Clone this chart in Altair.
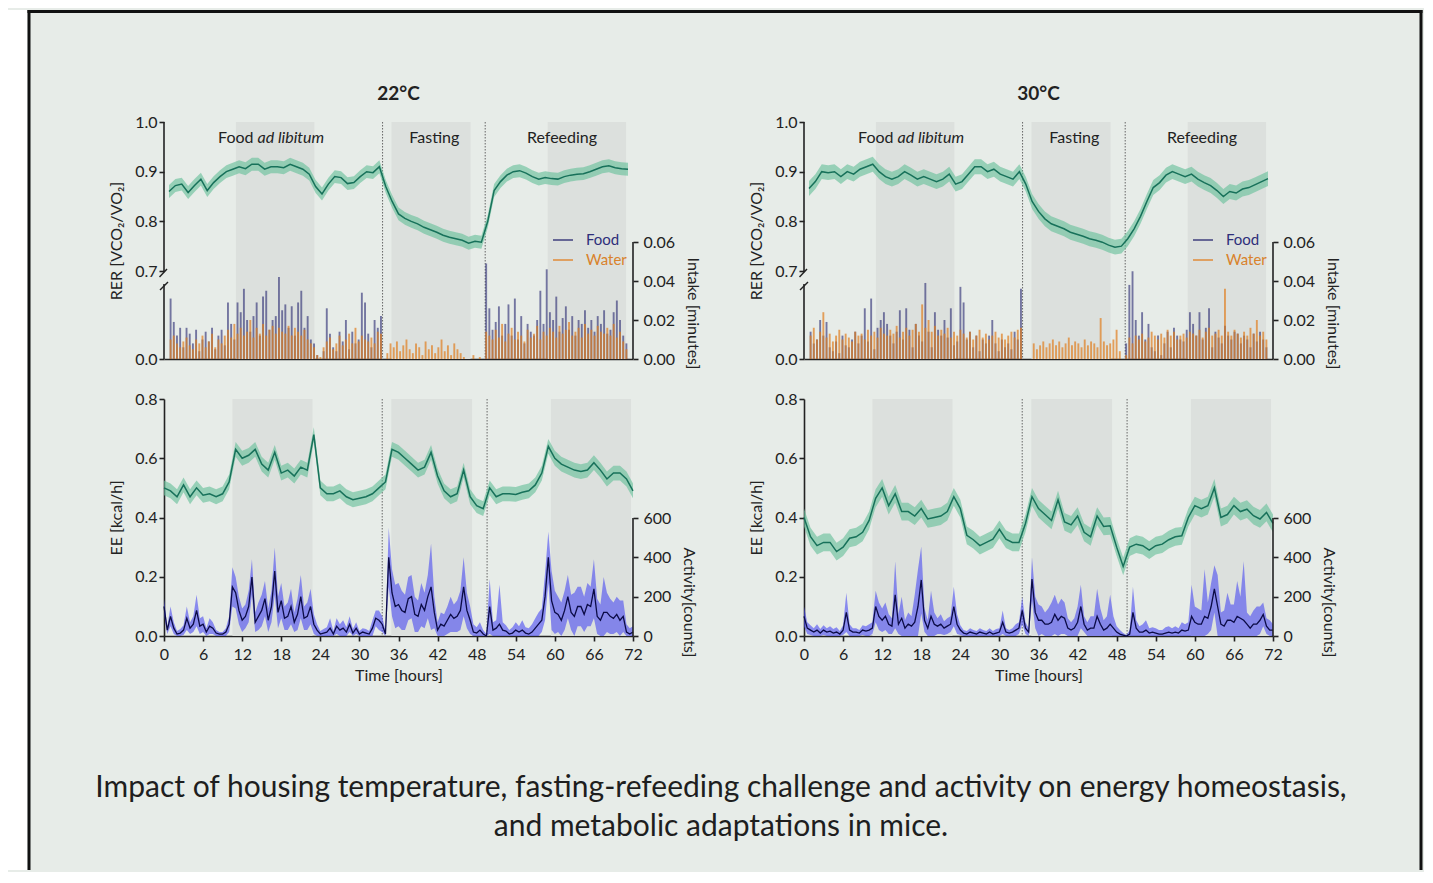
import altair as alt
import pandas as pd

# ---------------- data ----------------
HOURS = list(range(73))                       # hourly means, 0..72 h
HALF = [i * 0.5 for i in range(145)]          # activity, every 0.5 h
BINS = [i * 0.5 + 0.25 for i in range(144)]   # intake bins (0.5 h)

rer22 = [0.860, 0.872, 0.875, 0.858, 0.872, 0.885, 0.862, 0.878, 0.890, 0.900,
         0.905, 0.910, 0.906, 0.915, 0.915, 0.905, 0.910, 0.910, 0.908, 0.915,
         0.910, 0.905, 0.895, 0.870, 0.855, 0.875, 0.890, 0.888, 0.876, 0.878,
         0.890, 0.900, 0.898, 0.910, 0.870, 0.840, 0.815, 0.806, 0.800, 0.795,
         0.788, 0.783, 0.778, 0.772, 0.768, 0.765, 0.762, 0.756, 0.760, 0.758,
         0.800, 0.862, 0.880, 0.893, 0.900, 0.902, 0.897, 0.890, 0.885, 0.888,
         0.886, 0.885, 0.890, 0.893, 0.895, 0.896, 0.900, 0.905, 0.910, 0.912,
         0.908, 0.906, 0.905]
rer30 = [0.866, 0.880, 0.900, 0.898, 0.900, 0.890, 0.900, 0.895, 0.905, 0.910,
         0.915, 0.900, 0.890, 0.885, 0.890, 0.900, 0.893, 0.885, 0.890, 0.885,
         0.880, 0.885, 0.895, 0.875, 0.880, 0.895, 0.910, 0.910, 0.900, 0.905,
         0.895, 0.890, 0.885, 0.900, 0.875, 0.840, 0.820, 0.805, 0.795, 0.790,
         0.785, 0.778, 0.774, 0.770, 0.765, 0.762, 0.758, 0.752, 0.748, 0.750,
         0.765, 0.785, 0.810, 0.840, 0.868, 0.878, 0.893, 0.900, 0.895, 0.890,
         0.895, 0.885, 0.878, 0.872, 0.862, 0.850, 0.860, 0.857, 0.865, 0.868,
         0.874, 0.880, 0.886]
ee22 = [0.50, 0.49, 0.47, 0.51, 0.47, 0.50, 0.475, 0.48, 0.47, 0.48,
        0.52, 0.63, 0.60, 0.61, 0.63, 0.58, 0.56, 0.62, 0.55, 0.56,
        0.54, 0.57, 0.56, 0.68, 0.50, 0.48, 0.48, 0.49, 0.47, 0.46,
        0.465, 0.47, 0.48, 0.50, 0.52, 0.63, 0.62, 0.60, 0.58, 0.56,
        0.57, 0.62, 0.54, 0.49, 0.47, 0.48, 0.56, 0.47, 0.44, 0.43,
        0.50, 0.47, 0.48, 0.48, 0.478, 0.485, 0.49, 0.51, 0.55, 0.64,
        0.60, 0.58, 0.57, 0.56, 0.555, 0.56, 0.585, 0.56, 0.53, 0.55,
        0.55, 0.53, 0.49]
ee30 = [0.40, 0.335, 0.305, 0.316, 0.316, 0.285, 0.30, 0.33, 0.335, 0.35,
        0.39, 0.465, 0.50, 0.44, 0.48, 0.42, 0.42, 0.405, 0.43, 0.395,
        0.40, 0.405, 0.42, 0.47, 0.43, 0.34, 0.325, 0.305, 0.316, 0.327,
        0.36, 0.327, 0.316, 0.316, 0.38, 0.47, 0.43, 0.41, 0.39, 0.46,
        0.385, 0.375, 0.405, 0.35, 0.335, 0.405, 0.37, 0.372, 0.30, 0.235,
        0.30, 0.31, 0.305, 0.29, 0.305, 0.31, 0.325, 0.335, 0.338, 0.40,
        0.44, 0.43, 0.44, 0.50, 0.40, 0.41, 0.44, 0.42, 0.428, 0.406,
        0.395, 0.417, 0.38]
RER_SEM = {"22": 0.013, "30": 0.015}   # half-width of the shaded band
EE_SEM = {"22": 0.025, "30": 0.03}

food22 = [0.031, 0.019, 0.012, 0.016, 0.006, 0.016, 0.013, 0.008, 0.015, 0.004, 0.010, 0.014,
          0.009, 0.016, 0.005, 0.012, 0.015, 0.007, 0.029, 0.018, 0.010, 0.029, 0.024, 0.036,
          0.020, 0.014, 0.022, 0.029, 0.012, 0.032, 0.035, 0.015, 0.020, 0.022, 0.042, 0.025,
          0.028, 0.016, 0.027, 0.012, 0.029, 0.035, 0.016, 0.022, 0.010, 0.008, 0.002, 0.000,
          0.004, 0.026, 0.013, 0.006, 0.004, 0.014, 0.009, 0.020, 0.005, 0.014, 0.008, 0.010,
          0.034, 0.029, 0.013, 0.006, 0.020, 0.016, 0.022, 0, 0, 0, 0, 0,
          0, 0, 0, 0, 0, 0, 0, 0, 0, 0, 0, 0,
          0, 0, 0, 0, 0, 0, 0, 0, 0, 0, 0, 0,
          0, 0, 0, 0.049, 0.026, 0.015, 0.019, 0.027, 0.012, 0.018, 0.028, 0.012,
          0.031, 0.010, 0.022, 0.008, 0.018, 0.014, 0.012, 0.020, 0.035, 0.018, 0.046, 0.024,
          0.020, 0.032, 0.014, 0.021, 0.027, 0.015, 0.022, 0.012, 0.020, 0.018, 0.025, 0.016,
          0.020, 0.014, 0.022, 0.018, 0.025, 0.013, 0.015, 0.024, 0.030, 0.020, 0.012, 0.008]
water22 = [0.010, 0.012, 0.008, 0.006, 0.009, 0.011, 0.007, 0.005, 0.010, 0.008, 0.012, 0.006,
           0.009, 0.013, 0.006, 0.010, 0.008, 0.012, 0.015, 0.011, 0.018, 0.013, 0.016, 0.012,
           0.014, 0.020, 0.011, 0.016, 0.013, 0.018, 0.012, 0.015, 0.017, 0.013, 0.016, 0.014,
           0.013, 0.017, 0.012, 0.016, 0.014, 0.012, 0.015, 0.010, 0.008, 0.006, 0.002, 0.001,
           0.006, 0.009, 0.011, 0.005, 0.008, 0.012, 0.007, 0.010, 0.013, 0.008, 0.016, 0.009,
           0.012, 0.010, 0.009, 0.011, 0.008, 0.014, 0.013, 0.000, 0.003, 0.008, 0.006, 0.009,
           0.004, 0.007, 0.010, 0.005, 0.003, 0.008, 0.006, 0.002, 0.009, 0.005, 0.007, 0.003,
           0.006, 0.010, 0.004, 0.007, 0.002, 0.008, 0.005, 0.003, 0.001, 0.000, 0.000, 0.002,
           0.000, 0.001, 0.000, 0.014, 0.012, 0.010, 0.015, 0.011, 0.018, 0.009, 0.013, 0.016,
           0.010, 0.014, 0.012, 0.009, 0.015, 0.011, 0.013, 0.017, 0.010, 0.014, 0.012, 0.016,
           0.014, 0.011, 0.017, 0.013, 0.015, 0.019, 0.012, 0.014, 0.016, 0.011, 0.018, 0.013,
           0.015, 0.012, 0.017, 0.014, 0.013, 0.016, 0.012, 0.018, 0.011, 0.014, 0.009, 0.005]
food30 = [0.014, 0.008, 0.010, 0.020, 0.012, 0.019, 0.006, 0.004, 0.009, 0.003, 0.012, 0.007,
          0.006, 0.010, 0.014, 0.008, 0.012, 0.026, 0.009, 0.031, 0.005, 0.016, 0.020, 0.024,
          0.018, 0.012, 0.008, 0.014, 0.025, 0.010, 0.026, 0.015, 0.006, 0.018, 0.012, 0.009,
          0.039, 0.014, 0.006, 0.024, 0.015, 0.012, 0.020, 0.011, 0.026, 0.007, 0.009, 0.037,
          0.029, 0.010, 0.014, 0.006, 0.012, 0.004, 0.010, 0.008, 0.012, 0.020, 0.008, 0.004,
          0.010, 0.006, 0.008, 0.005, 0.014, 0.010, 0.036, 0, 0, 0, 0, 0,
          0, 0, 0, 0, 0, 0, 0, 0, 0, 0, 0, 0,
          0, 0, 0, 0, 0, 0, 0, 0, 0, 0, 0, 0,
          0, 0, 0, 0.008, 0.038, 0.045, 0.020, 0.012, 0.024, 0.010, 0.018, 0.006,
          0.004, 0.012, 0.002, 0.008, 0.014, 0.006, 0.016, 0.012, 0.010, 0.009, 0.015, 0.024,
          0.018, 0.012, 0.024, 0.010, 0.016, 0.026, 0.006, 0.014, 0.011, 0.008, 0.017, 0.012,
          0.010, 0.014, 0.013, 0.008, 0.012, 0.010, 0.006, 0.013, 0.009, 0.014, 0.010, 0.006]
water30 = [0.012, 0.016, 0.010, 0.014, 0.024, 0.011, 0.013, 0.009, 0.012, 0.015, 0.010, 0.013,
           0.011, 0.009, 0.014, 0.012, 0.013, 0.010, 0.015, 0.012, 0.014, 0.011, 0.016, 0.013,
           0.012, 0.015, 0.013, 0.017, 0.011, 0.014, 0.016, 0.012, 0.015, 0.018, 0.014, 0.028,
           0.016, 0.020, 0.014, 0.017, 0.012, 0.015, 0.013, 0.016, 0.011, 0.014, 0.012, 0.015,
           0.013, 0.011, 0.014, 0.010, 0.012, 0.015, 0.011, 0.013, 0.010, 0.012, 0.014, 0.011,
           0.013, 0.010, 0.012, 0.014, 0.011, 0.015, 0.016, 0.000, 0.000, 0.000, 0.008, 0.005,
           0.007, 0.009, 0.006, 0.008, 0.010, 0.007, 0.009, 0.006, 0.008, 0.011, 0.007, 0.009,
           0.008, 0.006, 0.010, 0.007, 0.009, 0.008, 0.006, 0.021, 0.009, 0.007, 0.008, 0.010,
           0.015, 0.004, 0.000, 0.002, 0.011, 0.008, 0.012, 0.010, 0.013, 0.009, 0.011, 0.014,
           0.012, 0.010, 0.013, 0.011, 0.015, 0.012, 0.014, 0.010, 0.012, 0.013, 0.011, 0.014,
           0.013, 0.012, 0.015, 0.011, 0.014, 0.016, 0.012, 0.013, 0.015, 0.012, 0.036, 0.014,
           0.012, 0.015, 0.013, 0.011, 0.014, 0.012, 0.016, 0.013, 0.020, 0.012, 0.014, 0.010]

act22_mean = [150, 30, 100, 40, 10, 15, 30, 90, 40, 60, 130, 50,
              60, 20, 50, 40, 15, 10, 10, 20, 60, 250, 220, 130,
              80, 100, 150, 300, 70, 100, 130, 190, 80, 150, 330, 120,
              180, 90, 100, 150, 70, 110, 200, 90, 100, 150, 60, 30,
              10, 15, 20, 40, 10, 50, 30, 40, 20, 60, 15, 40,
              10, 20, 15, 10, 40, 90, 80, 60, 10, 400, 220, 150,
              160, 130, 120, 190, 200, 110, 100, 160, 130, 200, 250, 120,
              30, 60, 50, 80, 110, 90, 100, 130, 250, 130, 80, 20,
              15, 30, 10, 0, 150, 30, 40, 60, 30, 25, 10, 15,
              30, 20, 30, 15, 10, 20, 40, 60, 80, 200, 400, 180,
              120, 110, 80, 130, 200, 120, 100, 150, 150, 110, 160, 150,
              240, 100, 80, 120, 120, 100, 90, 110, 80, 100, 20, 10,
              20]
act22_sem = [40, 20, 50, 30, 15, 20, 25, 60, 30, 40, 80, 40,
             40, 20, 40, 30, 15, 10, 10, 20, 40, 100, 80, 70,
             60, 60, 80, 90, 50, 70, 80, 90, 60, 80, 120, 80,
             90, 60, 70, 90, 50, 80, 110, 60, 70, 90, 50, 30,
             15, 20, 25, 50, 15, 40, 30, 40, 25, 40, 20, 30,
             15, 20, 20, 15, 40, 40, 50, 40, 15, 150, 120, 110,
             110, 100, 90, 110, 110, 90, 80, 110, 90, 110, 220, 80,
             40, 60, 60, 70, 90, 70, 80, 100, 150, 90, 70, 40,
             30, 40, 20, 10, 140, 40, 40, 200, 40, 30, 20, 30,
             40, 30, 50, 30, 30, 40, 50, 60, 60, 120, 130, 150,
             110, 90, 90, 100, 110, 90, 120, 100, 100, 90, 110, 100,
             150, 90, 80, 180, 100, 90, 80, 90, 100, 80, 40, 30,
             30]
act30_mean = [100, 40, 30, 20, 30, 15, 30, 20, 25, 15, 20, 10,
              30, 120, 30, 20, 20, 15, 30, 25, 30, 40, 150, 100,
              80, 100, 60, 50, 210, 60, 90, 40, 60, 50, 70, 150,
              285, 80, 40, 100, 60, 50, 60, 40, 50, 60, 150, 60,
              30, 15, 10, 20, 15, 10, 20, 15, 10, 20, 10, 15,
              20, 70, 20, 15, 20, 30, 40, 130, 40, 20, 290, 120,
              80, 80, 60, 60, 70, 110, 80, 100, 90, 40, 30, 40,
              70, 150, 60, 30, 40, 40, 100, 60, 30, 40, 60, 40,
              20, 10, 5, 0, 10, 120, 40, 20, 20, 30, 15, 20,
              15, 10, 10, 15, 20, 15, 20, 15, 30, 25, 30, 100,
              70, 60, 60, 100, 90, 150, 240, 150, 60, 50, 80, 80,
              70, 100, 90, 80, 60, 40, 60, 60, 80, 110, 50, 30,
              30]
act30_sem = [50, 30, 25, 20, 30, 20, 25, 20, 25, 20, 25, 15,
             25, 100, 30, 20, 20, 15, 25, 25, 30, 30, 80, 70,
             60, 70, 50, 40, 170, 50, 110, 40, 60, 50, 140, 190,
             170, 60, 40, 130, 60, 40, 50, 35, 40, 40, 100, 50,
             25, 15, 15, 20, 15, 15, 20, 15, 15, 20, 15, 20,
             20, 60, 20, 15, 20, 30, 30, 70, 30, 20, 110, 80,
             80, 70, 60, 80, 100, 100, 80, 90, 80, 50, 40, 50,
             80, 110, 40, 40, 60, 60, 140, 80, 50, 60, 150, 60,
             30, 20, 10, 5, 20, 130, 40, 30, 40, 50, 25, 25,
             25, 20, 20, 30, 30, 25, 30, 25, 40, 35, 40, 160,
             80, 80, 70, 240, 80, 120, 120, 160, 60, 80, 140, 80,
             90, 180, 110, 300, 60, 60, 70, 90, 70, 60, 40, 50,
             30]

DARK_START = [10.5, 34.9, 59.4]
DARK_END = [22.8, 47.3, 71.7]
SWITCH = [33.5, 49.6]
PHASES = ["Fasting", "Refeeding"]
PHASE_T = [41.5, 61.1]
CAPTION = ["Impact of housing temperature, fasting-refeeding challenge and activity on energy homeostasis,",
           "and metabolic adaptations in mice."]

# ---------------- geometry / style ----------------
W, H = 469, 237
RER_BOT = 1.0 - 0.3 * H / 149          # break: 0.7..1.0 use the upper 149 px
INT_TOP = 0.06 * H / 117               # intake 0..0.06 use the lower 117 px
ACT_TOP = 600 * H / 118                # activity 0..600 use the lower 118 px

FONT = "Lato"
INK = "#222222"
BG = "#E7ECE8"
SHADE = "#DCE0DD"
GREEN = "#17715A"
GREEN_BAND = "#6CC29C"
NAVY = "#26266F"
ORANGE = "#E07E1E"
ACT_LINE = "#0B0B46"
ACT_BAND = "#4A4AF2"

ONE = pd.DataFrame({"k": [0]})
dark_df = pd.DataFrame({"s": DARK_START, "e": DARK_END})
switch_df = pd.DataFrame({"t": SWITCH})
xscale = alt.Scale(domain=[0, 72], nice=False, zero=False)


def X(field, bottom):
    if bottom:
        ax = alt.Axis(values=list(range(0, 73, 6)), title="Time [hours]", labelPadding=5,
                      titlePadding=5, labelFlush=False, tickSize=5)
    else:
        ax = alt.Axis(labels=False, ticks=False, title=None, labelFlush=False)
    return alt.X(f"{field}:Q", scale=xscale, axis=ax)


def seg(x1, y1, x2=None, y2=None, color=INK, width=1.6, dash=None):
    kw = dict(color=color, strokeWidth=width)
    if dash:
        kw["strokeDash"] = dash
    enc = dict(x=alt.value(x1), y=alt.value(y1))
    if x2 is not None:
        enc["x2"] = alt.value(x2)
    if y2 is not None:
        enc["y2"] = alt.value(y2)
    return alt.Chart(ONE).mark_rule(**kw).encode(**enc)


def label(text, x, y, size=16, color=INK, weight="normal", style="normal", align="center"):
    return alt.Chart(ONE).mark_text(text=text, fontSize=size, color=color, fontWeight=weight,
                                    fontStyle=style, align=align, baseline="middle",
                                    font=FONT).encode(x=alt.value(x), y=alt.value(y))


def px(hour):
    return hour / 72 * W


def phase_marks(bottom):
    shade = alt.Chart(dark_df).mark_rect(color=SHADE).encode(
        x=X("s", bottom), x2=alt.X2("e"), y=alt.value(0), y2=alt.value(H))
    dots = alt.Chart(switch_df).mark_rule(color="#666666", strokeDash=[1.5, 1.5], strokeWidth=1).encode(
        x=X("t", bottom), y=alt.value(0), y2=alt.value(H))
    return [shade, dots]


def frame_marks():
    # white page margin on the left, dark frame round the figure (background is the figure grey)
    white = alt.Chart(ONE).mark_rect(color="white").encode(
        x=alt.value(-156), x2=alt.value(-136.5), y=alt.value(-112), y2=alt.value(748))
    return [white,
            seg(-135, -112, y2=748, color="#111111", width=3),
            seg(-136.5, -110.5, x2=1258.5, color="#111111", width=3),
            seg(1257, -112, y2=748, color="#111111", width=3)]


def top_panel(rer, sem, food, water, temp, first):
    ld = pd.DataFrame({"t": HOURS, "v": rer})
    ld["lo"] = ld["v"] - sem
    ld["hi"] = ld["v"] + sem
    bd = pd.DataFrame({"t": BINS, "food": food, "water": water})
    yS = alt.Scale(domain=[RER_BOT, 1.0], nice=False, zero=False)
    yA = alt.Axis(values=[RER_BOT, 0.7, 0.8, 0.9, 1.0], domain=False,
                  labelExpr="datum.value < 0.6 ? '0.0' : format(datum.value, '.1f')",
                  title="RER [VCO₂/VO₂]", titlePadding=10, orient="left")
    layers = frame_marks() if first else []
    layers += phase_marks(False)
    layers += [
        alt.Chart(ld).mark_area(color=GREEN_BAND, opacity=0.65).encode(
            x=X("t", False), y=alt.Y("lo:Q", scale=yS, axis=yA), y2=alt.Y2("hi")),
        alt.Chart(ld).mark_line(color=GREEN, strokeWidth=1.5).encode(
            x=X("t", False), y=alt.Y("v:Q", scale=yS, axis=yA)),
        # broken left axis
        seg(0, 0, y2=149), seg(0, 162, y2=H),
        seg(-4.5, 155, x2=3, y2=147, width=1.4), seg(-4, 168, x2=4, y2=160, width=1.4),
        label(temp, W / 2, -28, size=19, weight="bold"),
        label("Food", px(14.05) - 2, 16, align="right"),
        label("ad libitum", px(14.05) + 2, 16, style="italic", align="left"),
        label(PHASES[0], px(PHASE_T[0]), 16),
        label(PHASES[1], px(PHASE_T[1]), 16),
    ]
    left = alt.layer(*layers)
    iS = alt.Scale(domain=[0, INT_TOP], nice=False, zero=True)
    iA = alt.Axis(orient="right", values=[0, 0.02, 0.04, 0.06], format=".2f", domain=False,
                  title="Intake [minutes]", titleY=191, titlePadding=10, labelPadding=5)
    right = alt.layer(
        alt.Chart(bd).mark_bar(width=1.9, color=NAVY, opacity=0.6).encode(
            x=X("t", False), y=alt.Y("food:Q", scale=iS, axis=iA)),
        alt.Chart(bd).mark_bar(width=1.9, color=ORANGE, opacity=0.7).encode(
            x=X("t", False), y=alt.Y("water:Q", scale=iS, axis=iA)),
        seg(W, H - 117, y2=H),
        seg(389, 118, x2=409, color=NAVY, width=1.3),
        seg(389, 138, x2=409, color=ORANGE, width=1.3),
        label("Food", 422, 118, size=15, color="#2E2E7A", align="left"),
        label("Water", 422, 138, size=15, color="#D9822B", align="left"),
    )
    return alt.layer(left, right).resolve_scale(y="independent").properties(width=W, height=H)


def bottom_panel(ee, sem, am, asem, first):
    ld = pd.DataFrame({"t": HOURS, "v": ee})
    ld["lo"] = ld["v"] - sem
    ld["hi"] = ld["v"] + sem
    ad = pd.DataFrame({"t": HALF, "m": am, "s": asem})
    ad["lo"] = (ad["m"] - ad["s"]).clip(lower=0)
    ad["hi"] = ad["m"] + ad["s"]
    eS = alt.Scale(domain=[0, 0.8], nice=False)
    eA = alt.Axis(values=[0, 0.2, 0.4, 0.6, 0.8], format=".1f", title="EE [kcal/h]",
                  titlePadding=10, orient="left")
    layers = []
    if first:
        layers += [label(CAPTION[0], 557, 389, size=30, color="#1E1E1E"),
                   label(CAPTION[1], 557, 428, size=30, color="#1E1E1E")]
    layers += phase_marks(True)
    layers += [
        alt.Chart(ld).mark_area(color=GREEN_BAND, opacity=0.65).encode(
            x=X("t", True), y=alt.Y("lo:Q", scale=eS, axis=eA), y2=alt.Y2("hi")),
        alt.Chart(ld).mark_line(color=GREEN, strokeWidth=1.5).encode(
            x=X("t", True), y=alt.Y("v:Q", scale=eS, axis=eA)),
    ]
    left = alt.layer(*layers)
    aS = alt.Scale(domain=[0, ACT_TOP], nice=False, zero=True)
    aA = alt.Axis(orient="right", values=[0, 200, 400, 600], domain=False,
                  title="Activity[counts]", titleY=203, titlePadding=10, labelPadding=5)
    right = alt.layer(
        alt.Chart(ad).mark_area(color=ACT_BAND, opacity=0.6).encode(
            x=X("t", True), y=alt.Y("lo:Q", scale=aS, axis=aA), y2=alt.Y2("hi")),
        alt.Chart(ad).mark_line(color=ACT_LINE, strokeWidth=1.3).encode(
            x=X("t", True), y=alt.Y("m:Q", scale=aS, axis=aA)),
        seg(W, H - 118, y2=H),
    )
    return alt.layer(left, right).resolve_scale(y="independent").properties(width=W, height=H)


tl = top_panel(rer22, RER_SEM["22"], food22, water22, "22°C", True)
tr = top_panel(rer30, RER_SEM["30"], food30, water30, "30°C", False)
bl = bottom_panel(ee22, EE_SEM["22"], act22_mean, act22_sem, True)
br = bottom_panel(ee30, EE_SEM["30"], act30_mean, act30_sem, False)

chart = alt.concat(tl, tr, bl, br, columns=2, spacing={"row": 40, "column": 171},
                   bounds="flush").properties(
    background=BG, padding={"left": 0, "top": 0, "right": 0, "bottom": 0}
).configure_view(stroke=None).configure_axis(
    labelFont=FONT, titleFont=FONT, labelFontSize=16, titleFontSize=16,
    titleFontWeight="normal", labelColor=INK, titleColor=INK, domainColor=INK,
    tickColor=INK, domainWidth=1.6, tickWidth=1.6, tickSize=5, grid=False
).configure_text(font=FONT)

chart.save("out.html", embed_options={"renderer": "svg", "actions": False})
